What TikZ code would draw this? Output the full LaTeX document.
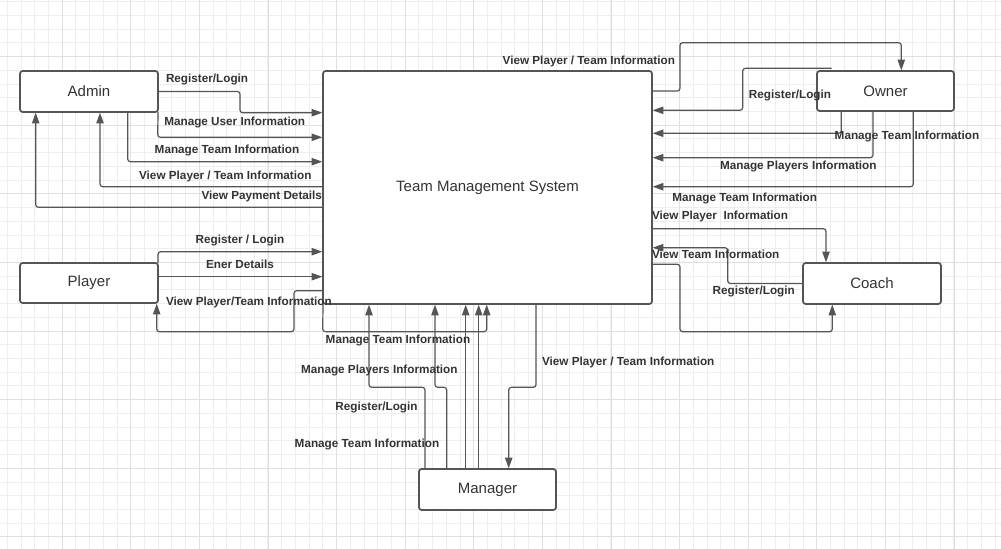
\documentclass[tikz,border=0pt]{standalone}
\usepackage{fontspec}
\setmainfont{Liberation Sans}
\usetikzlibrary{arrows.meta}
\definecolor{linegray}{HTML}{555555}
\definecolor{textgray}{HTML}{333333}
\definecolor{minorgray}{HTML}{EEEEEE}
\definecolor{majorgray}{HTML}{E0E0E0}
\begin{document}
\begin{tikzpicture}[%
    x=0.75pt, y=-0.75pt,
    every node/.style = {outer sep=0pt},
    gridminor/.style = {draw=minorgray, line width=0.75pt},
    gridmajor/.style = {draw=majorgray, line width=0.75pt},
    entity/.style = {draw=linegray, line width=1.3pt, rounded corners=2pt, fill=white,
      minimum width=103.5pt, minimum height=30.75pt, text=textgray, font=\fontsize{11.25}{13}\selectfont},
    flow/.style = {draw=linegray, line width=0.9pt, rounded corners=2pt, -{Triangle[length=8pt,width=5.5pt]}, shorten >=0.5pt},
    flowlabel/.style = {draw=none, fill=none, inner sep=0pt, text=textgray, font=\bfseries\fontsize{8.8}{10}\selectfont}%
  ]
    \useasboundingbox (0,0) rectangle (1001,549);
    % background grid
    \foreach \k in {0,...,72} \draw[gridminor] ({7.3+13.72*\k},0) -- ++(0,549);
    \foreach \k in {0,...,39} \draw[gridminor] (0,{1.8+13.72*\k}) -- ++(1001,0);
    \foreach \k in {0,...,13} \draw[gridmajor] ({62.3+68.6*\k},0) -- ++(0,549);
    \foreach \k in {0,...,7} \draw[gridmajor] (0,{56.7+68.6*\k}) -- ++(1001,0);

    \node[entity, minimum width=246.75pt, minimum height=174.75pt] (TMS) at (487.5,187.5) {Team Management System};
    \node[entity] (Admin) at (89,91.5) {Admin};
    \node[entity, minimum height=30pt] (Player) at (89,283) {Player};
    \node[entity, minimum width=102.75pt, minimum height=30pt] (Owner) at (885.5,91) {Owner};
    \node[entity] (Coach) at (872,283.5) {Coach};
    \node[entity, minimum width=102.75pt] (Manager) at (487.5,489.5) {Manager};
    \coordinate (ownerreg) at (831.7,68.3);

    % Admin
    \draw[flow] (Admin.east) -- (240,91.5) -- (240,112.7) -- (TMS.west |- 0,112.7);
    \draw[flow] (Admin.south east) -- (157.7,137.3) -- (TMS.west |- 0,137.3);
    \draw[flow] (Admin.south -| 127.7,0) -- (127.7,161.7) -- (TMS.west |- 0,161.7);
    \draw[flow] (TMS.west |- 0,186.7) -- (100,186.7) -- (Admin.south -| 100,0);
    \draw[flow] (TMS.west |- 0,207.3) -- (35.7,207.3) -- (Admin.south -| 35.7,0);
    % Player
    \draw[flow] (Player.north east) -- (158,251.7) -- (TMS.west |- 0,251.7);
    \draw[flow] (Player.east |- 0,276.7) -- (TMS.west |- 0,276.7);
    \draw[flow] (TMS.west |- 0,290.7) -- (294,290.7) -- (294,331.7) -- (156.7,331.7) -- (Player.south -| 156.7,0);
    % Manager
    \draw[flow] (TMS.south west) -- (322.7,331.7) -- (486.7,331.7) -- (TMS.south -| 486.7,0);
    \draw[flow] (Manager.north -| 425,0) -- (425,387.3) -- (369,387.3) -- (TMS.south -| 369,0);
    \draw[flow] (Manager.north -| 446.7,0) -- (446.7,387.3) -- (435,387.3) -- (TMS.south -| 435,0);
    \draw[flow] (Manager.north -| 465.7,0) -- (TMS.south -| 465.7,0);
    \draw[flow] (Manager.north -| 478.7,0) -- (TMS.south -| 478.7,0);
    \draw[flow] (TMS.south -| 536,0) -- (536,387.3) -- (508.7,387.3) -- (Manager.north -| 508.7,0);
    % Owner
    \draw[flow] (TMS.east |- 0,91) -- (680,91) -- (680,42.7) -- (901.3,42.7) -- (Owner.north -| 901.3,0);
    \draw[flow] (ownerreg) -- (742.7,68.3) -- (742.7,110.3) -- (TMS.east |- 0,110.3);
    \draw[flow] (Owner.south -| 841.3,0) -- (841.3,133.3) -- (TMS.east |- 0,133.3);
    \draw[flow] (Owner.south -| 873,0) -- (873,157.7) -- (TMS.east |- 0,157.7);
    \draw[flow] (Owner.south -| 913.3,0) -- (913.3,186.7) -- (TMS.east |- 0,186.7);
    % Coach
    \draw[flow] (TMS.east |- 0,228.7) -- (826,228.7) -- (Coach.north -| 826,0);
    \draw[flow] (Coach.west) -- (727.7,283.5) -- (727.7,247.7) -- (TMS.east |- 0,247.7);
    \draw[flow] (TMS.east |- 0,264.3) -- (680,264.3) -- (680,331.7) -- (832.3,331.7) -- (Coach.south -| 832.3,0);

    % labels
    \node[flowlabel, anchor=west] (lAdminReg) at (166,79) {Register/Login};
    \node[flowlabel] (lAdminUser) at (234.7,122.3) {Manage User Information};
    \node[flowlabel] (lAdminTeam) at (227,150) {Manage Team Information};
    \node[flowlabel] (lAdminView) at (225.3,176) {View Player / Team Information};
    \node[flowlabel, anchor=east] (lAdminPay) at (322,196) {View Payment Details};
    \node[flowlabel] (lPlayerReg) at (240,240) {Register / Login};
    \node[flowlabel] (lPlayerDet) at (240,264.3) {Ener Details};
    \node[flowlabel, anchor=west] (lPlayerView) at (166,302.7) {View Player/Team Information};
    \node[flowlabel] (lMgrTeamA) at (398,340) {Manage Team Information};
    \node[flowlabel] (lMgrPlayers) at (379.3,370.7) {Manage Players Information};
    \node[flowlabel] (lMgrReg) at (376.5,407.7) {Register/Login};
    \node[flowlabel] (lMgrTeamB) at (367,444.7) {Manage Team Information};
    \node[flowlabel, anchor=west] (lMgrView) at (542,362) {View Player / Team Information};
    \node[flowlabel, anchor=east] (lOwnerView) at (675,61.7) {View Player / Team Information};
    \node[flowlabel] (lOwnerReg) at (790,95.7) {Register/Login};
    \node[flowlabel] (lOwnerTeamA) at (907,136.7) {Manage Team Information};
    \node[flowlabel] (lOwnerPlayers) at (798.3,166.7) {Manage Players Information};
    \node[flowlabel] (lOwnerTeamB) at (744.7,198.3) {Manage Team Information};
    \node[flowlabel, anchor=west] (lCoachView) at (652,216.7) {View Player \ Information};
    \node[flowlabel] (lCoachReg) at (753.7,291.3) {Register/Login};
    \node[flowlabel, anchor=west] (lCoachTeam) at (652,254.3) {View Team Information};
\end{tikzpicture}
\end{document}
